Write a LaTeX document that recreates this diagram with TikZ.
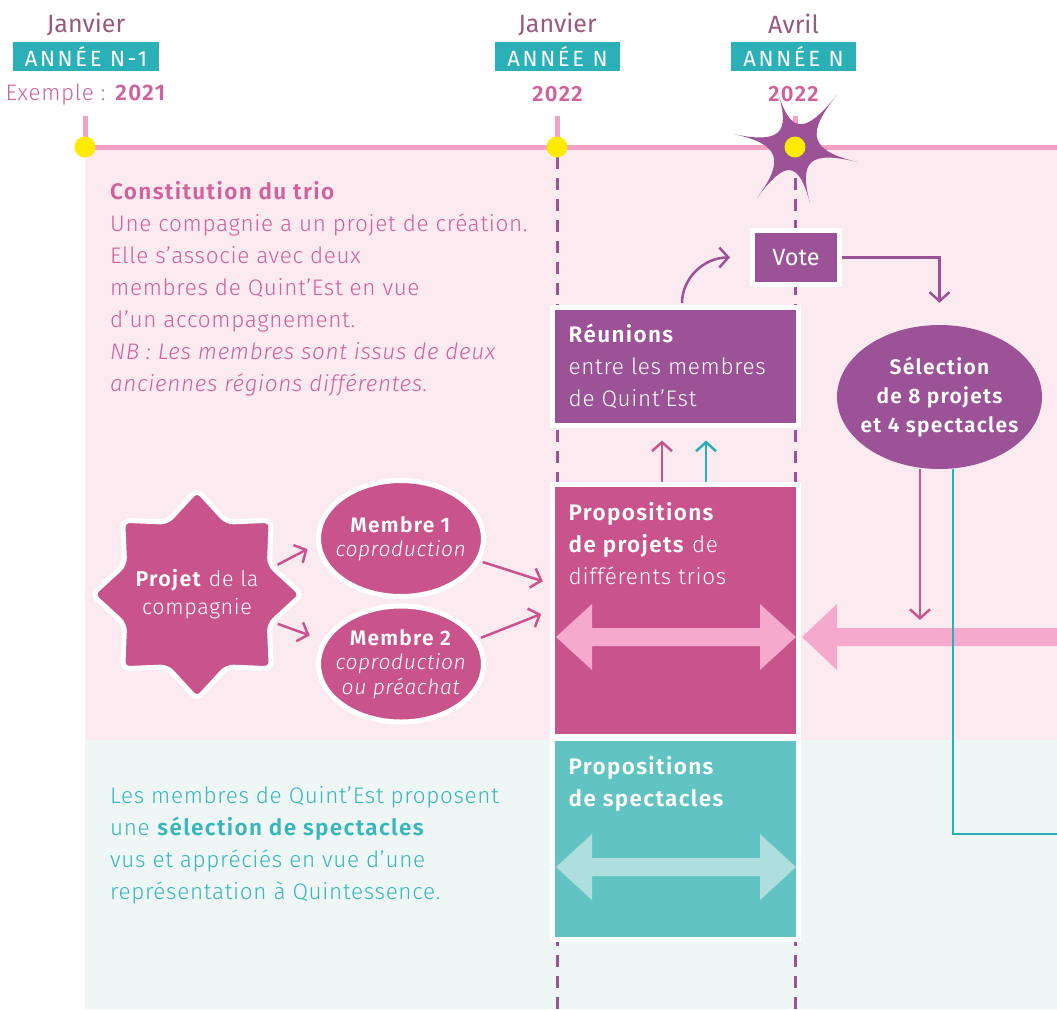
\documentclass[tikz,border=0pt]{standalone}
\usepackage{fontspec}
\setmainfont{Fira Sans Light}[LetterSpace=3,BoldFont={Fira Sans SemiBold},BoldFeatures={LetterSpace=6},ItalicFont={Fira Sans Light Italic},BoldItalicFont={Fira Sans SemiBold Italic}]
\newfontfamily\regfont{Fira Sans}
\usetikzlibrary{shapes.geometric,arrows.meta,positioning}
\definecolor{pinkbg}{HTML}{FCEAF1}
\definecolor{tealbg}{HTML}{EEF7F6}
\definecolor{linePink}{HTML}{F5A0C5}
\definecolor{magenta}{HTML}{C9548C}
\definecolor{violet}{HTML}{9B5296}
\definecolor{anneeTeal}{HTML}{2BB0B8}
\definecolor{boxTeal}{HTML}{62C3C3}
\definecolor{arrowTeal}{HTML}{AEDEDD}
\definecolor{arrowPink}{HTML}{F5A9CC}
\definecolor{mauve}{HTML}{9A5A7C}
\definecolor{dotYellow}{HTML}{FFEB00}
\definecolor{textPink}{HTML}{D0619A}
\definecolor{textTeal}{HTML}{3AB5BB}
\begin{document}
\begin{tikzpicture}[
        x=1pt, y=-1pt,
        every node/.style={inner sep=0pt},
        timeline/.style={draw=linePink, line width=5pt},
        dashline/.style={draw=violet, line width=3pt, dash pattern=on 12pt off 9pt},
        yellowdot/.style={circle, fill=dotYellow, minimum size=21pt},
        anneebox/.style={fill=anneeTeal, text=white, minimum height=29pt, font=\regfont\fontsize{22}{24}\selectfont\addfontfeatures{LetterSpace=12}},
        bigbox/.style={draw=white, line width=5pt, minimum width=246pt},
        boxtext/.style={align=left, text=white, font=\fontsize{22.5}{32}\selectfont},
        blob/.style={ellipse, fill=magenta, draw=white, line width=5pt, minimum width=165pt, minimum height=116pt, inner xsep=-20pt, inner ysep=-6pt, text=white, align=center, font=\fontsize{21}{24.5}\selectfont},
        conn/.style={line width=2.5pt, -{Straight Barb[length=9pt,width=20pt]}},
    ]
    \useasboundingbox (0,0) rectangle (1057,1009);
    % backgrounds of the two bands
    \fill[pinkbg] (85,149) rectangle (1057,740);
    \fill[tealbg] (85,740) rectangle (1057,1009);
    % time line and dates
    \draw[timeline] (85,147) -- (1057,147);
    \foreach \x in {85,557,795}
        \draw[timeline] (\x,116) -- (\x,147);
    \foreach \x in {557,795}
        \draw[dashline] (\x,157) -- (\x,1009);
    \fill[violet, shift={(795,147)}] (-17,-54) .. controls (-4.25,-13) and (10,-12.5) .. (42,-52)
        .. controls (10,-12.5) and (15,3.5) .. (62,15)
        .. controls (15,3.5) and (3.5,13.5) .. (15,56)
        .. controls (3.5,13.5) and (-9.5,12.5) .. (-38,51)
        .. controls (-9.5,12.5) and (-15.5,-3.25) .. (-62,-13)
        .. controls (-15.5,-3.25) and (-4.25,-13) .. (-17,-54) -- cycle;
    \foreach \x/\name in {85/dotA, 557/dotB, 795/dotC}
        \node[yellowdot] (\name) at (\x,147) {};
    \foreach \x/\mois/\an/\w/\name in {86/Janvier/N-1/146/anA, 557.5/Janvier/N/125/anB, 793.5/Avril/N/125/anC} {
        \node[anneebox, minimum width=\w pt] (\name) at (\x,56.5) {ANNÉE \an};
        \node[text=mauve, font=\regfont\fontsize{25}{27}\selectfont] (\name mois) at (\x,24) {\mois};
    }
    \node[text=textPink, font=\fontsize{22.5}{24}\selectfont] (exemple) at (86,94) {Exemple : \textbf{2021}};
    \foreach \x/\name in {557.5/anB, 793.5/anC}
        \node[text=textPink, font=\bfseries\fontsize{22}{24}\selectfont] (\name an) at (\x,94) {2022};
    % explanations
    \node[anchor=north west, align=left, text=textPink, font=\fontsize{22.5}{32}\selectfont] (trio) at (110,181)
        {\textbf{Constitution du trio}\\Une compagnie a un projet de création.\\Elle s’associe avec deux\\membres de Quint’Est en vue\\d’un accompagnement.\\\textit{NB : Les membres sont issus de deux}\\\textit{anciennes régions différentes.}};
    \node[anchor=north west, align=left, text=textTeal, font=\fontsize{22.5}{32}\selectfont] (spectaclesTxt) at (110,786)
        {Les membres de Quint’Est proposent\\une \textbf{sélection de spectacles}\\vus et appréciés en vue d’une\\représentation à Quintessence.};
    % boxes
    \node[bigbox, fill=violet, minimum height=118pt] (reunions) at (675.5,366.5) {};
    \node[bigbox, fill=magenta, minimum height=252pt] (projets) at (675.5,610.5) {};
    \node[bigbox, fill=boxTeal, minimum height=201pt] (spectacles) at (675.5,839) {};
    \node[boxtext, below right=19pt and 18.5pt of reunions.north west] (reunionsTxt)
        {\textbf{Réunions}\\entre les membres\\de Quint’Est};
    \node[boxtext, below right=20.5pt and 18.5pt of projets.north west] (projetsTxt)
        {\textbf{Propositions}\\\textbf{de projets} de\\différents trios};
    \node[boxtext, below right=20.5pt and 18.5pt of spectacles.north west] (spectaclesBoxTxt)
        {\textbf{Propositions}\\\textbf{de spectacles}};
    \node[draw=white, line width=5pt, fill=violet, minimum width=87pt, minimum height=54pt, text=white, font=\regfont\fontsize{23.5}{25}\selectfont] (vote) at (796,257.5) {Vote};
    \node[ellipse, fill=violet, minimum width=205pt, minimum height=144pt, inner xsep=-25pt, text=white, align=center, font=\bfseries\fontsize{21}{29}\selectfont] (selection) at (939.5,397) {Sélection\\de 8 projets\\et 4 spectacles};
    \node[star, star points=8, star point ratio=1.34, minimum size=210pt, rounded corners=7pt, fill=magenta, draw=white, line width=5pt] (projet) at (197,594.5) {};
    \node[text=white, align=center, font=\fontsize{21.5}{28}\selectfont] (projetTxt) at (projet) {\textbf{Projet} de la\\compagnie};
    \node[blob] (membre1) at (401,538.5) {\textbf{Membre 1}\\\textit{coproduction}};
    \node[blob] (membre2) at (401,664) {\textbf{Membre 2}\\\textit{coproduction}\\\textit{ou préachat}};
    % fat arrows
    \foreach \y/\col in {637/arrowPink, 867/arrowTeal}
        \fill[\col] (556,\y) -- (592,\y-33) -- (592,\y-9) -- (760,\y-9) -- (760,\y-33) -- (796,\y)
            -- (760,\y+33) -- (760,\y+9) -- (592,\y+9) -- (592,\y+33) -- cycle;
    \fill[arrowPink] (802,637) -- (837,604) -- (837,628) -- (1057,628) -- (1057,646) -- (837,646) -- (837,670) -- cycle;
    \coordinate (shaftTop) at (920,620);
    \coordinate (tealEnd) at (1057,834);
    % connectors
    \draw[conn, magenta, shorten <=3pt, shorten >=10pt] (projet.20) -- (membre1.184);
    \draw[conn, magenta, shorten <=3pt, shorten >=14pt] (projet.-20) -- (membre2.163);
    \draw[conn, magenta, shorten <=3pt, shorten >=7.5pt] (membre1.-16) -- ([yshift=27pt]projets.west);
    \draw[conn, magenta, shorten <=3pt, shorten >=9.5pt] (membre2.18) -- (projets.west);
    \draw[conn, magenta] ([xshift=-13.5pt]projets.north) -- ([xshift=-13.5pt,yshift=-12.5pt]reunions.south);
    \draw[conn, anneeTeal] ([xshift=30.5pt]projets.north) -- ([xshift=30.5pt,yshift=-12.5pt]reunions.south);
    \draw[conn, violet, shorten <=2pt] ([xshift=6.5pt]reunions.north) to[out=90, in=180] ([xshift=-20pt]vote.west);
    \draw[conn, violet, shorten >=22pt] (vote.east) -| (selection.north);
    \draw[conn, magenta] (selection.south -| shaftTop) -- (shaftTop);
    \draw[line width=2.5pt, anneeTeal] ([xshift=13.5pt]selection.south) |- (tealEnd);
\end{tikzpicture}
\end{document}
